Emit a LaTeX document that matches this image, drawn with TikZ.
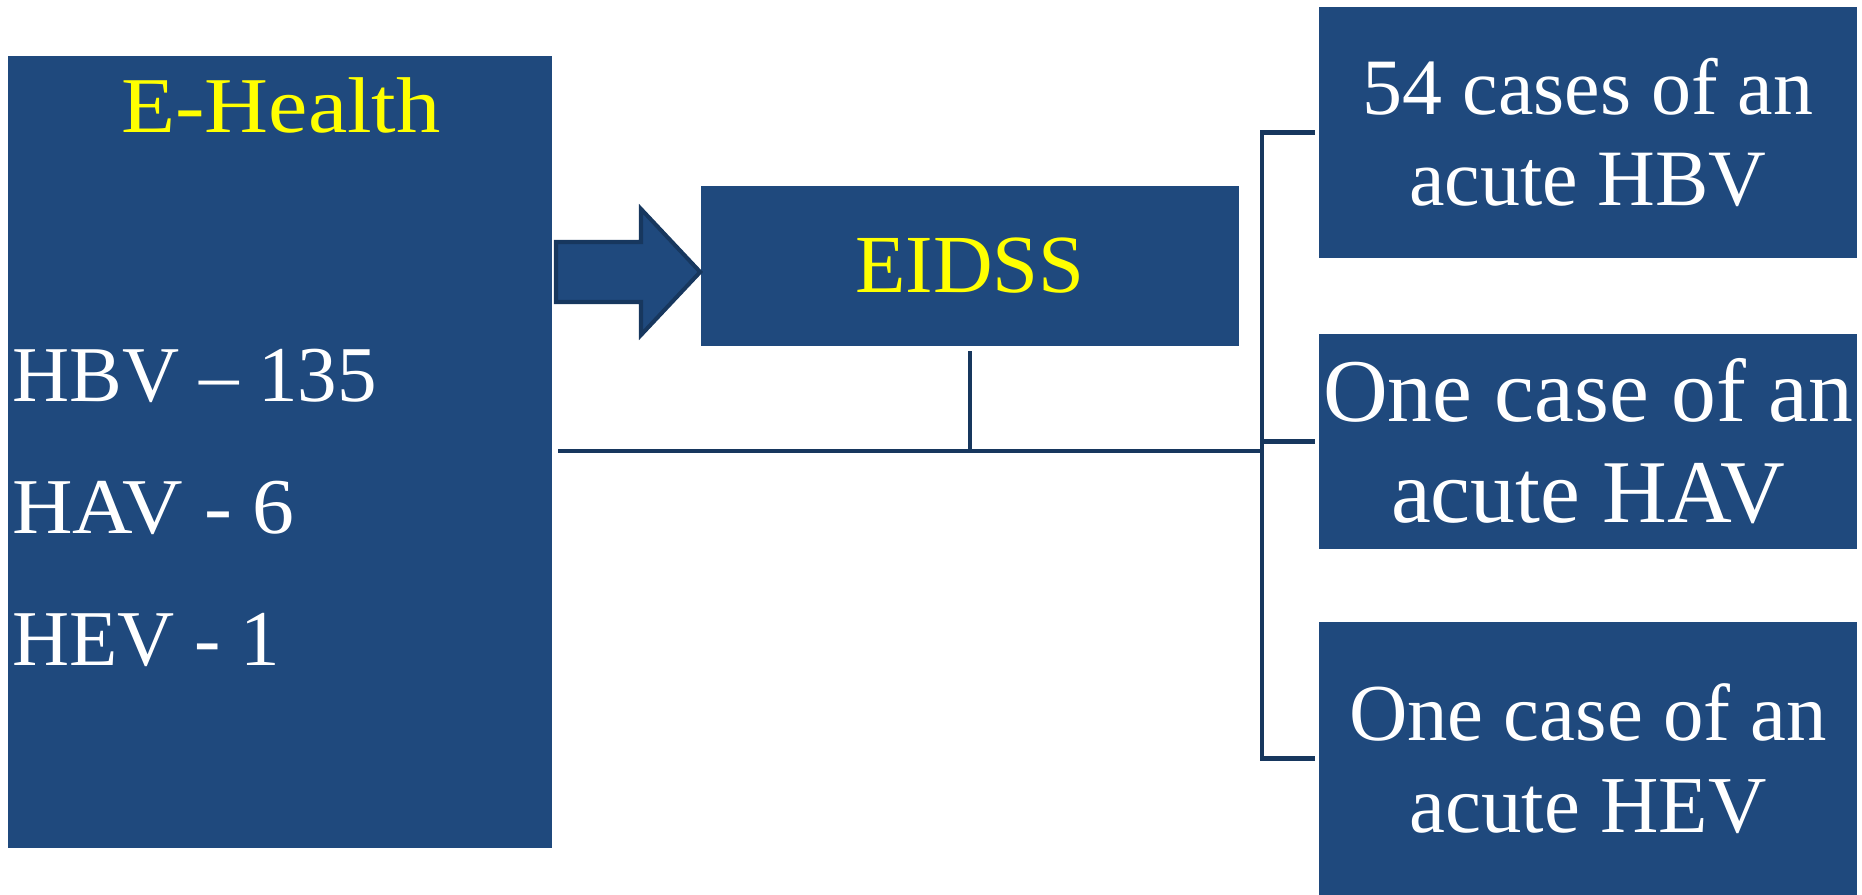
\documentclass[tikz,border=0pt]{standalone}
\usepackage{fontspec}
\setmainfont{Liberation Serif}
\usepackage{xcolor}
\usepackage{tikz}
\definecolor{boxblue}{HTML}{1F497D}
\definecolor{lineblue}{HTML}{17375E}
\definecolor{titleyellow}{HTML}{FFFF00}

\begin{document}
\begin{tikzpicture}[x=0.02cm, y=-0.02cm,
		box/.style={fill=boxblue, inner sep=0pt, text=white, align=center},
		big/.style={font=\fontsize{45}{52}\selectfont},
		link/.style={draw=lineblue, line width=2.3pt},
		bigarrow/.style={fill=boxblue, draw=lineblue, line width=2.3pt}]
			\useasboundingbox (0,0) rectangle (1862,895);
			
			\node[box, minimum width=10.88cm, minimum height=15.84cm] (ehealth) at (280,452) {};
			\node[big, text=titleyellow, anchor=base] (title) at (281,133) {\scalebox{1.12}[1]{E-Health}};
			\node[big, text=white, anchor=base west, inner sep=0pt] (hbv) at (12,401) {HBV – 135};
			\node[big, text=white, anchor=base west, inner sep=0pt] (hav) at (12,533) {\scalebox{1.06}[1]{HAV - 6}};
			\node[big, text=white, anchor=base west, inner sep=0pt] (hev) at (12,665) {HEV - 1};
			
			\node[box, text=titleyellow, font=\fontsize{47}{52}\selectfont, minimum width=10.78cm, minimum height=3.2cm] (eidss) at (970,266) {EIDSS};
			
			\node[box, font=\fontsize{45.5}{52}\selectfont, minimum width=10.76cm, minimum height=5.02cm] (acutehbv) at (1588,132.5) {54 cases of an\\acute HBV};
			\node[box, font=\fontsize{51}{57.5}\selectfont, minimum width=10.76cm, minimum height=4.3cm] (acutehav) at (1588,441.5) {One case of an\\acute HAV};
			\node[box, font=\fontsize{46}{52}\selectfont, minimum width=10.76cm, minimum height=5.46cm] (acutehev) at (1588,758.5) {One case of an\\acute HEV};
			
			\coordinate (trunkstart) at (558,451);
			\coordinate (split) at (970,451);
			\coordinate (hub) at (1262,451);
			
			\draw[bigarrow] (556,242) -- (641,242) -- (641,209) -- ([yshift=-0.12cm]eidss.west) -- (641,335) -- (641,302) -- (556,302) -- cycle;
			
			\draw[link, shorten <=0.1cm] (eidss.south) -- (split);
			\draw[link] (trunkstart) -- (hub);
			\draw[link] ([xshift=-0.08cm]acutehbv.west) -- (hub |- acutehbv.west) -- (hub |- acutehev.west) -- ([xshift=-0.08cm]acutehev.west);
			\draw[link] (hub |- acutehav.west) -- ([xshift=-0.08cm]acutehav.west);
											
		\end{tikzpicture}
\end{document}
